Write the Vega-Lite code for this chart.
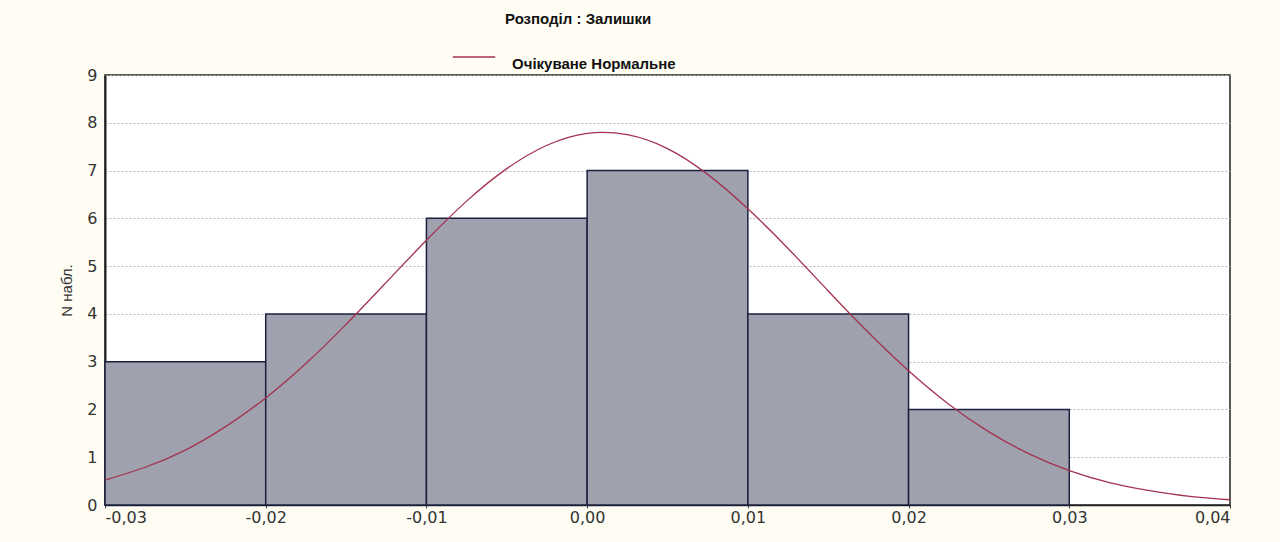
{
  "$schema": "https://vega.github.io/schema/vega-lite/v6.json",
  "autosize": "none",
  "width": 1125,
  "height": 430,
  "padding": {"left": 105, "top": 75, "right": 50, "bottom": 37},
  "background": "#fffdf3",
  "config": {
    "locale": {"number": {"decimal": ",", "thousands": " ", "grouping": [3], "currency": ["", ""], "minus": "-"}},
    "view": {"fill": "white", "stroke": "#222", "strokeWidth": 1.5},
    "font": "Liberation Sans"
  },
  "title": {
    "text": "Розподіл : Залишки",
    "anchor": "start",
    "frame": "group",
    "dx": 400,
    "offset": 6,
    "fontSize": 15,
    "fontWeight": "bold",
    "color": "#111",
    "font": "Liberation Sans"
  },
  "datasets": {
    "bins": [
      {"x0": -0.03, "x1": -0.02, "n": 3},
      {"x0": -0.02, "x1": -0.01, "n": 4},
      {"x0": -0.01, "x1": 0.0, "n": 6},
      {"x0": 0.0, "x1": 0.01, "n": 7},
      {"x0": 0.01, "x1": 0.02, "n": 4},
      {"x0": 0.02, "x1": 0.03, "n": 2}
    ],
    "curve": [
      {"x": -0.03, "y": 0.52, "s": "Очікуване Нормальне"},
      {"x": -0.0275, "y": 0.79, "s": "Очікуване Нормальне"},
      {"x": -0.025, "y": 1.15, "s": "Очікуване Нормальне"},
      {"x": -0.0225, "y": 1.64, "s": "Очікуване Нормальне"},
      {"x": -0.02, "y": 2.24, "s": "Очікуване Нормальне"},
      {"x": -0.0175, "y": 2.96, "s": "Очікуване Нормальне"},
      {"x": -0.015, "y": 3.78, "s": "Очікуване Нормальне"},
      {"x": -0.0125, "y": 4.66, "s": "Очікуване Нормальне"},
      {"x": -0.01, "y": 5.54, "s": "Очікуване Нормальне"},
      {"x": -0.0075, "y": 6.36, "s": "Очікуване Нормальне"},
      {"x": -0.005, "y": 7.04, "s": "Очікуване Нормальне"},
      {"x": -0.0025, "y": 7.53, "s": "Очікуване Нормальне"},
      {"x": 0.0, "y": 7.78, "s": "Очікуване Нормальне"},
      {"x": 0.0025, "y": 7.75, "s": "Очікуване Нормальне"},
      {"x": 0.005, "y": 7.46, "s": "Очікуване Нормальне"},
      {"x": 0.0075, "y": 6.92, "s": "Очікуване Нормальне"},
      {"x": 0.01, "y": 6.2, "s": "Очікуване Нормальне"},
      {"x": 0.0125, "y": 5.37, "s": "Очікуване Нормальне"},
      {"x": 0.015, "y": 4.48, "s": "Очікуване Нормальне"},
      {"x": 0.0175, "y": 3.61, "s": "Очікуване Нормальне"},
      {"x": 0.02, "y": 2.81, "s": "Очікуване Нормальне"},
      {"x": 0.0225, "y": 2.11, "s": "Очікуване Нормальне"},
      {"x": 0.025, "y": 1.53, "s": "Очікуване Нормальне"},
      {"x": 0.0275, "y": 1.07, "s": "Очікуване Нормальне"},
      {"x": 0.03, "y": 0.72, "s": "Очікуване Нормальне"},
      {"x": 0.0325, "y": 0.47, "s": "Очікуване Нормальне"},
      {"x": 0.035, "y": 0.3, "s": "Очікуване Нормальне"},
      {"x": 0.0375, "y": 0.18, "s": "Очікуване Нормальне"},
      {"x": 0.04, "y": 0.11, "s": "Очікуване Нормальне"}
    ]
  },
  "layer": [
    {
      "data": {"name": "bins"},
      "mark": {"type": "rect", "fill": "#9fa1ae", "stroke": "#1b2040", "strokeWidth": 1.5},
      "encoding": {
        "x": {
          "field": "x0", "type": "quantitative",
          "scale": {"domain": [-0.03, 0.04], "nice": false, "zero": false},
          "axis": {
            "title": null, "format": ".2f", "values": [-0.03, -0.02, -0.01, 0, 0.01, 0.02, 0.03, 0.04],
            "grid": false, "labelFont": "DejaVu Sans", "labelFontSize": 16, "labelColor": "#333", "labelPadding": 1,
            "tickSize": 3, "tickColor": "#444", "domain": true, "domainColor": "#222", "domainWidth": 1.5
          }
        },
        "x2": {"field": "x1"},
        "y": {
          "field": "n", "type": "quantitative",
          "scale": {"domain": [0, 9], "nice": false},
          "axis": {
            "title": "N набл.", "titleFontWeight": "normal", "titleFontSize": 15, "titleColor": "#333",
            "titlePadding": 12,
            "values": [0, 1, 2, 3, 4, 5, 6, 7, 8, 9],
            "labelFont": "DejaVu Sans", "labelFontSize": 16, "labelColor": "#333", "labelPadding": 8,
            "grid": true, "gridColor": "#b8b8b8", "gridDash": [2, 2], "gridWidth": 1,
            "tickSize": 0, "domainColor": "#222", "domainWidth": 2
          }
        },
        "y2": {"datum": 0}
      }
    },
    {
      "data": {"name": "curve"},
      "mark": {"type": "line", "strokeWidth": 1.3, "interpolate": "natural"},
      "encoding": {
        "x": {"field": "x", "type": "quantitative"},
        "y": {"field": "y", "type": "quantitative"},
        "color": {
          "field": "s", "type": "nominal",
          "scale": {"range": ["#a3334f"]},
          "legend": {
            "title": null, "orient": "none", "legendX": 345, "legendY": -42,
            "symbolType": "stroke", "symbolSize": 1800, "symbolStrokeWidth": 1.3,
            "labelFontSize": 15, "labelFontWeight": "bold", "labelColor": "#111",
            "labelBaseline": "top",
            "labelOffset": 16, "labelLimit": 400, "padding": 2
          }
        }
      }
    }
  ]
}
